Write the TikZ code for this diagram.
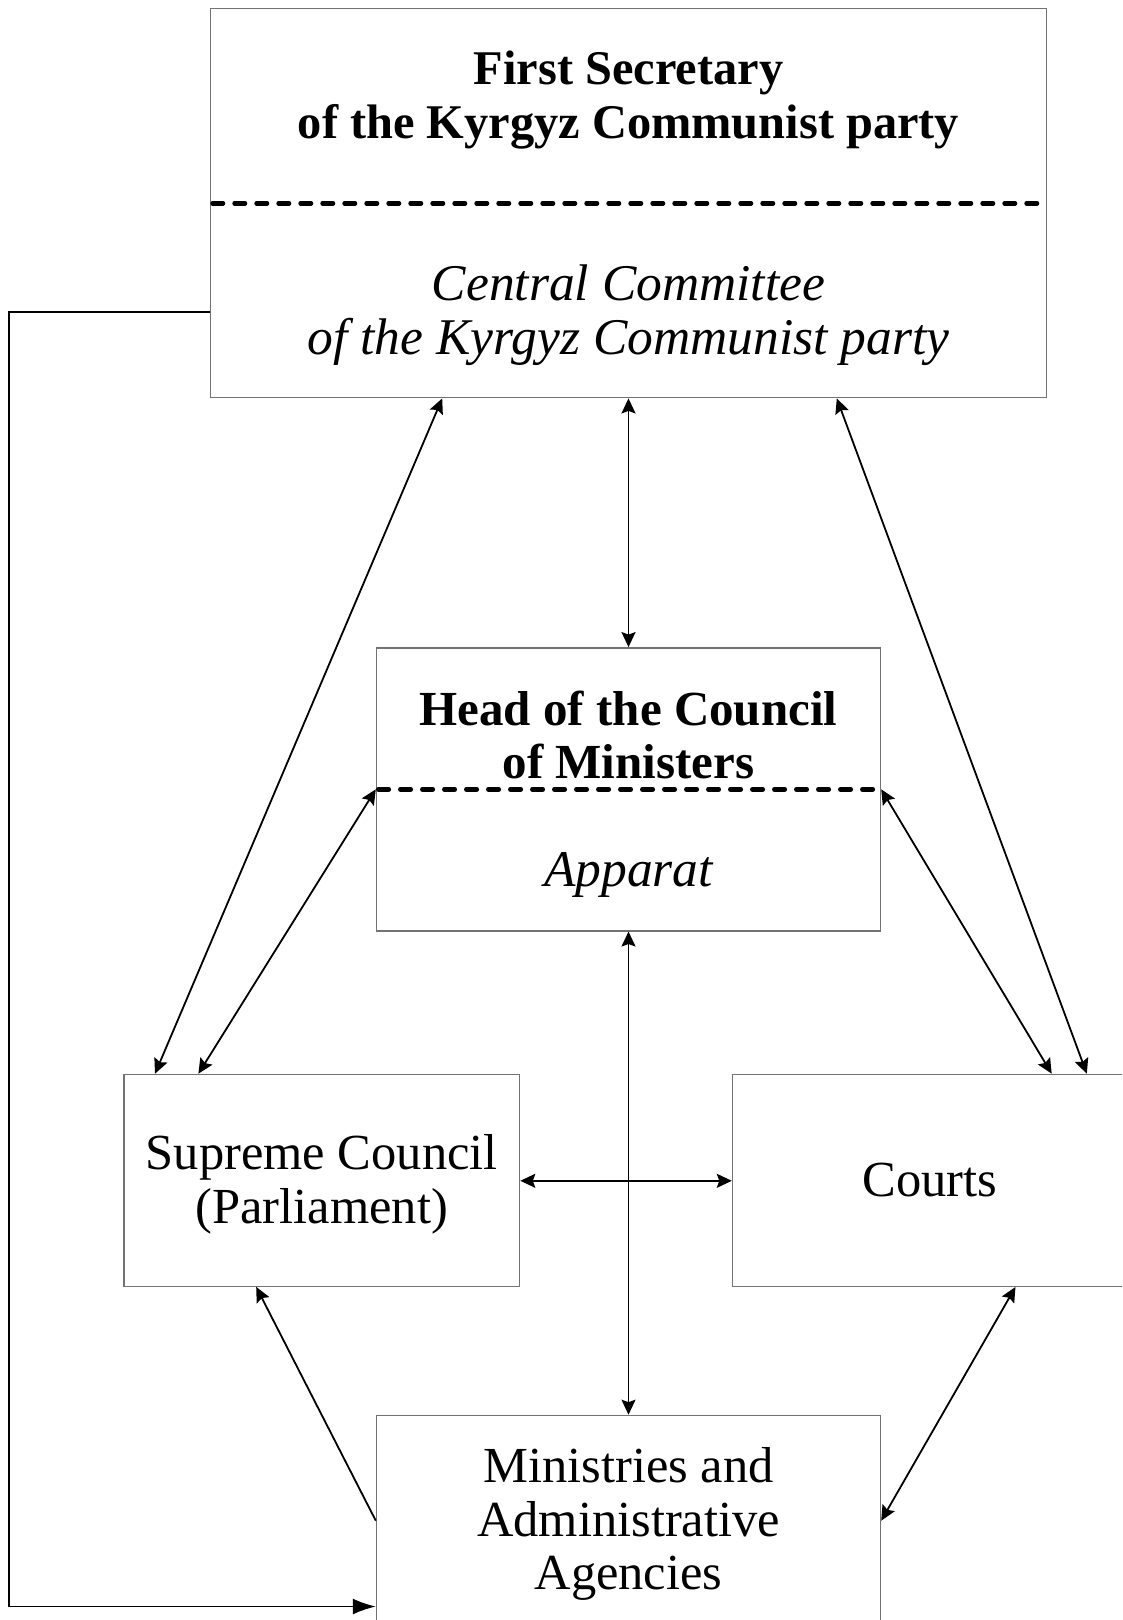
\documentclass[tikz,border=0pt]{standalone}
\usepackage{fontspec}
\setmainfont{Liberation Serif}
\usetikzlibrary{arrows.meta}
\tikzset{
  box/.style={draw=black!55, line width=1.4pt, rectangle, inner sep=0pt},
  txt/.style={align=center, inner sep=0pt, font=\fontsize{50.5}{53.7}\selectfont},
  sep/.style={line width=4.5pt, line cap=round, dash pattern=on 10.5pt off 11.5pt},
  conn/.style={line width=1.8pt, draw=black},
  tip/.style={-{Stealth[length=15pt,width=14pt,inset=2.5pt]}},
  bigtip/.style={-{Latex[length=23pt,width=16pt]}},
  tips/.style={{Stealth[length=15pt,width=14pt,inset=2.5pt]}-{Stealth[length=15pt,width=14pt,inset=2.5pt]}}
}
\begin{document}
\begin{tikzpicture}[x=1pt,y=-1pt]
\useasboundingbox (0,0) rectangle (1122,1620);
\clip (0,0) rectangle (1122,1620);
% boxes
\node[box, minimum width=835.5pt, minimum height=389.4pt] (top) at (628.5,203) {};
\node[box, minimum width=504pt, minimum height=283pt] (mid) at (628.5,789.3) {};
\node[box, minimum width=395.6pt, minimum height=211.8pt] (sup) at (321.8,1180.3) {};
\node[box, minimum width=395.6pt, minimum height=211.8pt] (crt) at (930.3,1180.3) {};
\node[box, minimum width=504pt, minimum height=220pt] (min) at (628.5,1525.4) {};
% separators
\draw[sep] ([xshift=2.5pt]top.west |- 0,203.3) -- ([xshift=-2.5pt]top.east |- 0,203.3);
\draw[sep] ([xshift=2.5pt]mid.west |- 0,789.3) -- ([xshift=-2.5pt]mid.east |- 0,789.3);
% texts
\node[txt, font=\fontsize{48.4}{53.7}\selectfont\bfseries] (t1) at (628.5,100) {First Secretary\\of the Kyrgyz Communist party};
\node[txt, font=\fontsize{51.5}{53.7}\selectfont\itshape] (t2) at (628.5,315) {Central Committee\\of the Kyrgyz Communist party};
\node[txt, font=\fontsize{49}{53.7}\selectfont\bfseries] (t3) at (628.5,735) {Head of the Council\\of Ministers};
\node[txt, font=\fontsize{51.5}{53.7}\selectfont\itshape] (t4) at (628.5,875) {Apparat};
\node[txt] (t5) at (321.8,1184) {Supreme Council\\(Parliament)};
\node[txt] (t6) at (929.8,1180) {Courts};
\node[txt] (t7) at (628.5,1524) {Ministries and\\Administrative\\Agencies};
% connectors
\draw[conn,tips] (top.south -| 442.2,0) -- (sup.north -| 155,0);
\draw[conn,tips] (top.south) -- (mid.north);
\draw[conn,tips] (top.south -| 836.8,0) -- (crt.north -| 1086.8,0);
\draw[conn,tips] (mid.west |- 0,789.3) -- (sup.north -| 198.4,0);
\draw[conn,tips] (mid.east |- 0,789.3) -- (crt.north -| 1051.7,0);
\draw[conn,tips] (mid.south) -- (min.north);
\draw[conn,tips] (sup.east |- 0,1180.8) -- (crt.west |- 0,1180.8);
\draw[conn,tip] (min.west |- 0,1520.7) -- (sup.south -| 256.2,0);
\draw[conn,tips] (min.east |- 0,1520.7) -- (crt.south -| 1015.5,0);
\coordinate (lc1) at (9.3,312);
\coordinate (lc2) at (9.3,1606.5);
\draw[conn,bigtip] (top.west |- lc1) -- (lc1) -- (lc2) -- (min.west |- lc2);
\end{tikzpicture}
\end{document}
